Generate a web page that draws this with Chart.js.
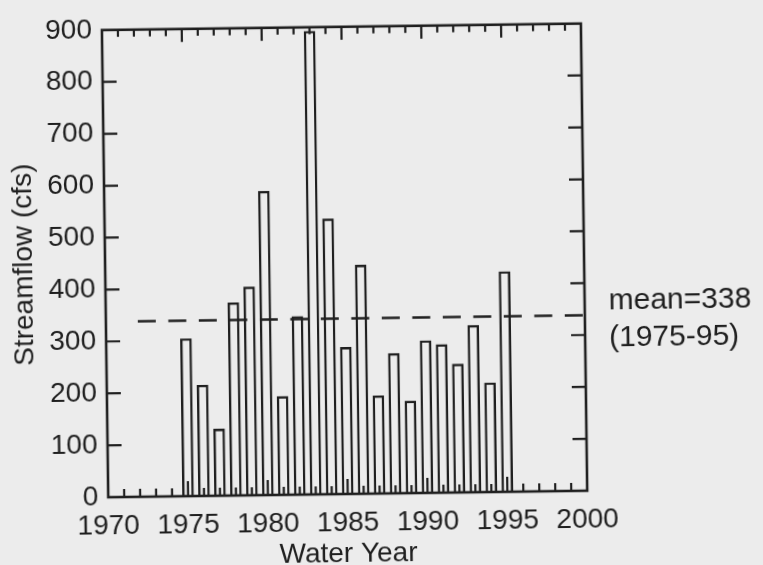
<!DOCTYPE html>
<html>
<head>
<meta charset="utf-8">
<script src="https://cdn.jsdelivr.net/npm/chart.js@4.4.1/dist/chart.umd.min.js"></script>
<style>
  html, body { margin: 0; padding: 0; background: #ececec; overflow: hidden; }
  #wrap { width: 763px; height: 565px; }
  /* the scanned figure sits slightly tilted on the page */
  canvas { display: block; transform: rotate(-0.78deg); transform-origin: 344.5px 256px; }
</style>
</head>
<body>
<div id="wrap"><canvas id="chart" width="763" height="565"></canvas></div>
<script>
// Annual mean streamflow by water year
const waterYears = [1975, 1976, 1977, 1978, 1979, 1980, 1981, 1982, 1983, 1984, 1985,
                    1986, 1987, 1988, 1989, 1990, 1991, 1992, 1993, 1994, 1995];
const streamflowCfs = [304, 214, 129, 372, 402, 586, 190, 344, 893, 531, 283,
                       441, 189, 270, 178, 294, 286, 248, 322, 211, 425];

// Period-of-record mean
const meanFlow = 338;
const meanPeriod = '(1975-95)';
const meanLineYears = [1972, 2000];

// Axis ticks
const yearTicks = [1970, 1975, 1980, 1985, 1990, 1995, 2000];
const flowTicks = [0, 100, 200, 300, 400, 500, 600, 700, 800, 900];

const INK = '#1f1f1f';
const FONT = '"Liberation Sans", Arial, Helvetica, sans-serif';

// Frame with inward tick marks and the mean annotation
const framePlugin = {
  id: 'frame',
  afterDraw(chart) {
    const { ctx, chartArea: a, scales: { x, y } } = chart;
    ctx.save();
    ctx.strokeStyle = INK;
    ctx.lineCap = 'butt';
    ctx.lineWidth = 2.2;
    ctx.beginPath();
    const first = yearTicks[0], last = yearTicks[yearTicks.length - 1];
    for (let yr = first + 1; yr < last; yr++) {
      const px = x.getPixelForValue(yr);
      const major = yr % 5 === 0;
      ctx.moveTo(px, a.bottom);
      ctx.lineTo(px, a.bottom - (major ? 15 : 8));
      ctx.moveTo(px, a.top);
      ctx.lineTo(px, a.top + (major ? 13 : 7));
    }
    for (const v of flowTicks.slice(1, -1)) {
      const py = y.getPixelForValue(v);
      ctx.moveTo(a.left, py);
      ctx.lineTo(a.left + 14, py);
      ctx.moveTo(a.right, py);
      ctx.lineTo(a.right - 14, py);
    }
    ctx.stroke();

    ctx.lineWidth = 2.6;
    ctx.strokeRect(a.left, a.top, a.right - a.left, a.bottom - a.top);

    const my = y.getPixelForValue(meanFlow);
    ctx.fillStyle = INK;
    ctx.font = '30px ' + FONT;
    ctx.textAlign = 'left';
    ctx.textBaseline = 'middle';
    ctx.fillText('mean=' + meanFlow, a.right + 24, my - 14);
    ctx.fillText(meanPeriod, a.right + 24, my + 23);
    ctx.restore();
  }
};

new Chart(document.getElementById('chart'), {
  type: 'bar',
  data: {
    datasets: [
      {
        type: 'bar',
        data: waterYears.map((yr, i) => ({ x: yr, y: streamflowCfs[i] })),
        backgroundColor: 'rgba(0,0,0,0)',
        borderColor: INK,
        borderWidth: 2.4,
        borderSkipped: 'start',
        barPercentage: 0.73,
        categoryPercentage: 1,
        order: 2
      },
      {
        type: 'line',
        data: meanLineYears.map(yr => ({ x: yr, y: meanFlow })),
        borderColor: INK,
        borderWidth: 2.4,
        borderDash: [18, 12.5],
        pointRadius: 0,
        fill: false,
        order: 1
      }
    ]
  },
  options: {
    responsive: false,
    animation: false,
    events: [],
    layout: { padding: { top: 18, right: 179, left: 0, bottom: 0 } },
    plugins: { legend: { display: false }, tooltip: { enabled: false } },
    scales: {
      x: {
        type: 'linear',
        min: yearTicks[0],
        max: yearTicks[yearTicks.length - 1],
        offset: false,
        grid: { display: false, drawTicks: false },
        border: { display: false },
        afterBuildTicks: s => { s.ticks = yearTicks.map(v => ({ value: v })); },
        afterFit: s => { s.height = 71; },
        ticks: {
          color: INK,
          padding: 12,
          maxRotation: 0,
          autoSkip: false,
          font: { family: FONT, size: 28 },
          callback: v => String(v)
        },
        title: {
          display: true,
          text: 'Water Year',
          color: INK,
          font: { family: FONT, size: 28, lineHeight: 0.8 },
          padding: { top: 0, bottom: 0 }
        }
      },
      y: {
        min: flowTicks[0],
        max: flowTicks[flowTicks.length - 1],
        grid: { display: false, drawTicks: false },
        border: { display: false },
        afterBuildTicks: s => { s.ticks = flowTicks.map(v => ({ value: v })); },
        afterFit: s => { s.width = 105; },
        ticks: {
          color: INK,
          padding: 10,
          font: { family: FONT, size: 28 }
        },
        title: {
          display: true,
          text: 'Streamflow (cfs)',
          color: INK,
          font: { family: FONT, size: 28, lineHeight: 1.2 },
          padding: { top: 7, bottom: 0 }
        }
      }
    }
  },
  plugins: [framePlugin]
});
</script>
</body>
</html>
